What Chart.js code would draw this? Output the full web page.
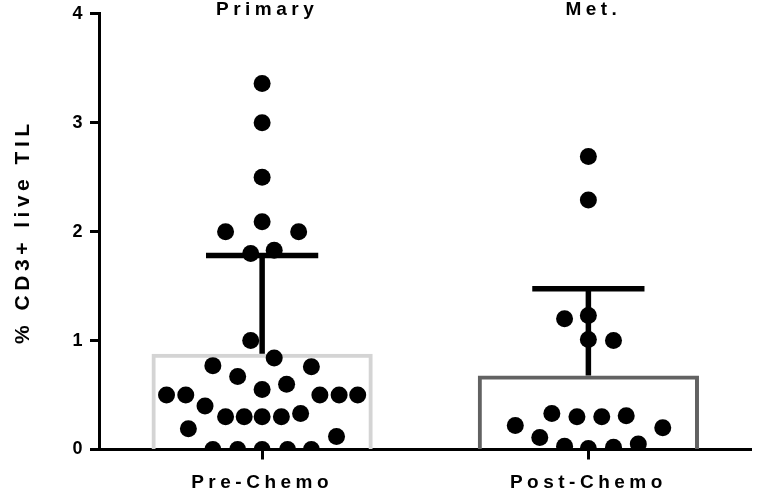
<!DOCTYPE html>
<html>
<head>
<meta charset="utf-8">
<script src="https://cdn.jsdelivr.net/npm/chart.js@4"></script>
<style>
  html, body { margin: 0; padding: 0; background: #fff; }
  #wrap { width: 760px; height: 493px; }
</style>
</head>
<body>
<div id="wrap"><canvas id="til-chart"></canvas></div>
<script>
// groups + bar values (mean) and upper error (SD)
const groups = ['Pre-Chemo', 'Post-Chemo'];
const groupTitles = ['Primary', 'Met.'];
const means = [0.88, 0.68];
const sdUpper = [0.90, 0.795];
const yTicks = [0, 1, 2, 3, 4];

// individual samples, offset = horizontal spread within the column
const preValues = [3.36, 3.00, 2.50, 2.09, 2.00, 2.00, 1.80, 1.83, 1.00, 0.84, 0.77, 0.76, 0.67, 0.60, 0.55,
    0.50, 0.50, 0.50, 0.50, 0.50, 0.40, 0.30, 0.30, 0.30, 0.30, 0.33, 0.19, 0.12, 0, 0, 0, 0, 0];
const preOffsets = [0, 0, 0, 0, -0.112, 0.112, -0.035, 0.037, -0.035, 0.037, -0.151, 0.151, -0.075, 0.075, 0,
    -0.293, -0.234, 0.177, 0.236, 0.293, -0.175, -0.112, -0.055, 0, 0.059, 0.118, -0.226, 0.228,
    -0.151, -0.075, 0, 0.078, 0.151];
const postValues = [2.69, 2.29, 1.23, 1.20, 1.01, 1.00, 0.33, 0.30, 0.30, 0.31, 0.22, 0.20, 0.11, 0.03, 0.01, 0.02, 0.05];
const postOffsets = [0, 0, 0, -0.073, 0, 0.077, -0.112, -0.035, 0.041, 0.116, -0.224, 0.228, -0.149, -0.073, 0, 0.077, 0.153];

const capHalf = 0.172;
const FONT = "'Liberation Sans', Arial, sans-serif";

function toPoints(values, offsets, index) {
    return values.map((v, i) => ({ x: index + offsets[i], y: v }));
}

// T shaped error bar as one polyline
function errorLine(index) {
    const top = means[index] + sdUpper[index];
    return [
        { x: index, y: means[index] },
        { x: index, y: top },
        { x: index - capHalf, y: top },
        { x: index + capHalf, y: top }
    ];
}

const dotStyle = {
    type: 'scatter',
    xAxisID: 'xs',
    backgroundColor: '#000',
    borderWidth: 0,
    pointRadius: 8.5,
    pointHoverRadius: 8.5,
    clip: 0
};

const errStyle = {
    type: 'scatter',
    xAxisID: 'xs',
    showLine: true,
    borderColor: '#000',
    borderWidth: 5.5,
    borderCapStyle: 'butt',
    pointRadius: 0,
    clip: 0
};

// canvas letter spacing, reset after every resize so set it on each draw
const spacing = {
    id: 'spacing',
    beforeDraw(chart) {
        chart.ctx.letterSpacing = '4.5px';
    }
};

const groupHeaders = {
    id: 'groupHeaders',
    afterDraw(chart) {
        const ctx = chart.ctx;
        const xScale = chart.scales.x;
        ctx.save();
        ctx.font = `bold 19px ${FONT}`;
        ctx.fillStyle = '#000';
        ctx.textAlign = 'center';
        ctx.textBaseline = 'middle';
        groupTitles.forEach((t, i) => {
            ctx.fillText(t, xScale.getPixelForValue(i) + 5, 10);
        });
        ctx.restore();
    }
};

new Chart(document.getElementById('til-chart'), {
    type: 'bar',
    data: {
        labels: groups,
        datasets: [
            ...[0, 1].map(i => Object.assign({ data: errorLine(i) }, errStyle)),
            Object.assign({ data: toPoints(preValues, preOffsets, 0) }, dotStyle),
            Object.assign({ data: toPoints(postValues, postOffsets, 1) }, dotStyle),
            {
                type: 'bar',
                xAxisID: 'x',
                data: means,
                grouped: false,
                backgroundColor: 'rgba(255,255,255,0)',
                borderColor: ['#d4d4d4', '#626262'],
                borderWidth: 4,
                borderSkipped: 'bottom',
                barPercentage: 0.678,
                categoryPercentage: 1
            }
        ]
    },
    options: {
        responsive: true,
        maintainAspectRatio: false,
        animation: false,
        events: [],
        layout: { padding: { top: 12.5, right: 5, bottom: 0, left: 0 } },
        plugins: {
            legend: { display: false },
            tooltip: { enabled: false }
        },
        scales: {
            x: {
                type: 'category',
                offset: true,
                afterFit(scale) {
                    scale.height = 43.5;
                    scale.paddingLeft = 0;
                    scale.paddingRight = 0;
                },
                grid: {
                    offset: false,
                    drawOnChartArea: false,
                    tickLength: 10,
                    tickWidth: 3,
                    tickColor: '#000'
                },
                border: { display: true, color: '#000', width: 3 },
                ticks: {
                    color: '#000',
                    padding: 12,
                    font: { family: FONT, size: 19, weight: 'bold' }
                }
            },
            xs: {
                type: 'linear',
                display: false,
                offset: false,
                min: -0.5,
                max: 1.5
            },
            y: {
                min: 0,
                max: 4,
                afterFit(scale) { scale.width = 99; },
                afterBuildTicks(scale) { scale.ticks = yTicks.map(v => ({ value: v })); },
                grid: {
                    drawOnChartArea: false,
                    tickLength: 9,
                    tickWidth: 3,
                    tickColor: '#000'
                },
                border: { display: true, color: '#000', width: 3 },
                ticks: {
                    color: '#000',
                    padding: 3,
                    font: { family: FONT, size: 18, weight: 'bold' }
                },
                title: {
                    display: true,
                    text: '% CD3+ live TIL',
                    color: '#000',
                    padding: { top: 11, bottom: 0 },
                    font: { family: FONT, size: 21, weight: 'bold' }
                }
            }
        }
    },
    plugins: [spacing, groupHeaders]
});
</script>
</body>
</html>
